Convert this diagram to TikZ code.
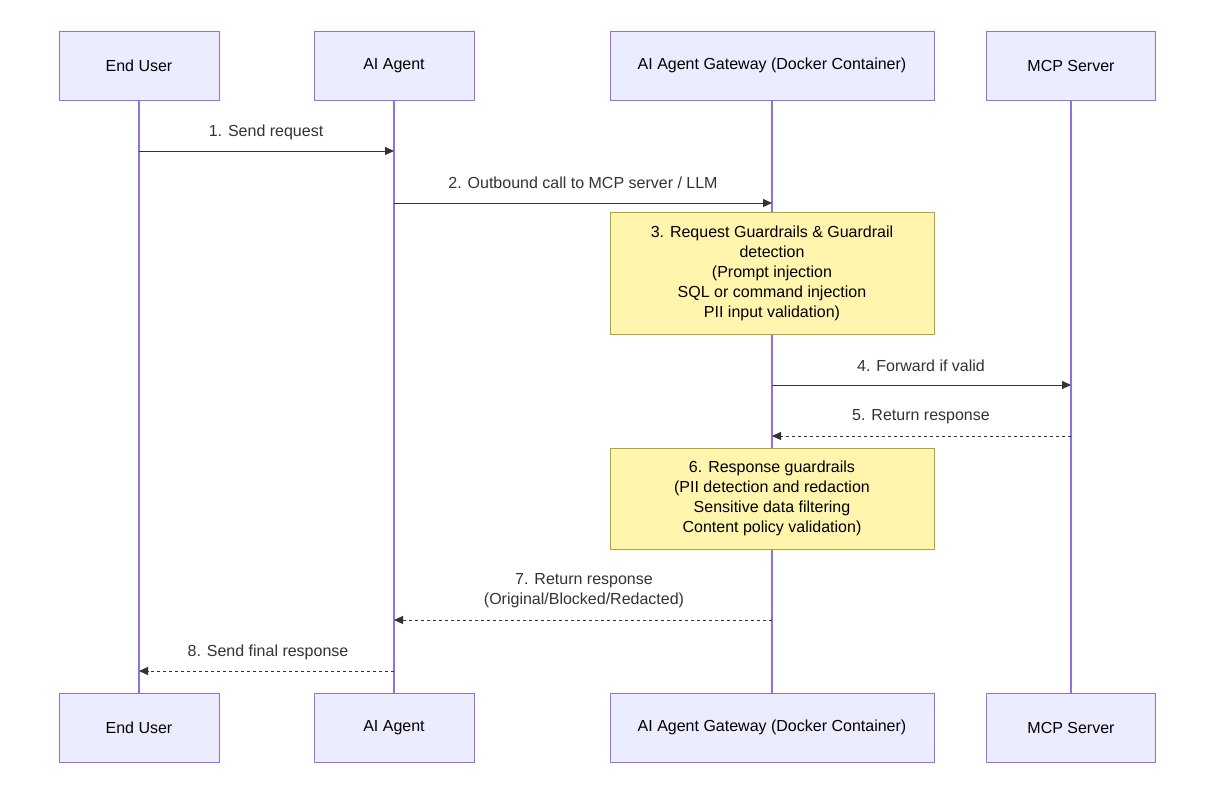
\documentclass[tikz,border=0pt]{standalone}
\usepackage{fontspec}
\setmainfont{Liberation Sans}
\usetikzlibrary{arrows.meta}
\definecolor{actfill}{HTML}{ECECFF}
\definecolor{actline}{HTML}{9370DB}
\definecolor{notefill}{HTML}{FFF5AD}
\definecolor{noteline}{HTML}{AAAA33}
\definecolor{ink}{HTML}{333333}
\begin{document}
\begin{tikzpicture}[x=1pt,y=-1pt,
  actor/.style={draw=actline,fill=actfill,line width=0.8pt,minimum height=69pt,inner sep=0pt,font=\fontsize{16}{19}\selectfont},
  note/.style={draw=noteline,fill=notefill,line width=0.8pt,inner sep=0pt,align=center,font=\fontsize{16}{20}\selectfont},
  life/.style={draw=actline,line width=1.5pt},
  msg/.style={draw=ink,line width=1pt,-{Triangle[length=9pt,width=8pt]}},
  rmsg/.style={msg,dashed,dash pattern=on 3pt off 3pt},
  lbl/.style={font=\fontsize{16}{20}\selectfont,text=ink,align=center,inner sep=0pt}]
\useasboundingbox[fill=white] (0,0) rectangle (1216,790);
\foreach \n/\x/\w/\t in {u/139/160/End User,a/394/160/AI Agent,g/772/324/AI Agent Gateway (Docker Container),m/1071/169/MCP Server / LLM}{
  \node[actor,minimum width=\w pt] (\n top) at (\x,65.5) {\t};
  \node[actor,minimum width=\w pt] (\n bot) at (\x,727.5) {\t};
}
\foreach \n in {u,a,g,m}{\draw[life] (\n top.south) -- (\n bot.north);}
\node[note,minimum width=324pt,minimum height=122pt] (n3) at (772,273) {3. Request Guardrails \& Guardrail\\detection\\(Prompt injection\\SQL or command injection\\PII input validation)};
\node[note,minimum width=324pt,minimum height=101pt] (n6) at (772,498.5) {6. Response guardrails\\(PII detection and redaction\\Sensitive data filtering\\Content policy validation)};
\foreach \n/\x in {u/139,a/394,g/772,m/1071}{
  \foreach \y in {151,203,385,436,620,671}{\coordinate (\n\y) at (\x,\y);}}
\draw[msg] (u151) -- (a151);
\node[lbl] (l1) at (266,132) {1. Send request};
\draw[msg] (a203) -- (g203);
\node[lbl] (l2) at (583,183) {2. Outbound call to MCP server / LLM};
\draw[msg] (g385) -- (m385);
\node[lbl] (l4) at (921,366) {4. Forward if valid};
\draw[rmsg] (m436) -- (g436);
\node[lbl] (l5) at (921,417) {5. Return response};
\draw[rmsg] (g620) -- (a620);
\node[lbl] (l7) at (584,591) {7. Return response\\(Original/Blocked/Redacted)};
\draw[rmsg] (a671) -- (u671);
\node[lbl] (l8) at (268,652) {8. Send final response};
\end{tikzpicture}
\end{document}
